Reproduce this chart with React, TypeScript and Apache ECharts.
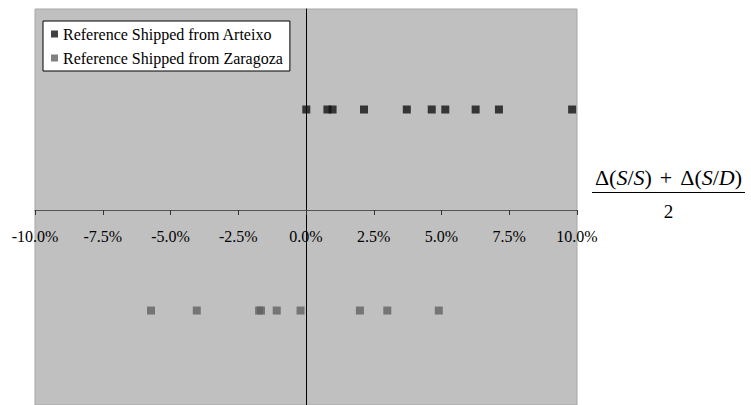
import React, { useEffect, useRef } from "react";
import * as echarts from "echarts";

const arteixoX = [0.01, 0.79, 0.98, 2.14, 3.72, 4.64, 5.14, 6.26, 7.12, 9.82];
const zaragozaX = [-5.72, -4.03, -1.73, -1.66, -1.08, -0.2, 1.99, 3.0, 4.9];
const seriesNames = ["Reference Shipped from Arteixo", "Reference Shipped from Zaragoza"];
const rowLevel = [1, -1];

const FONT = "Liberation Serif";

export default function App() {
  const ref = useRef<HTMLDivElement>(null);
  useEffect(() => {
    if (!ref.current) return;
    const chart = echarts.init(ref.current, undefined, { renderer: "svg" });
    chart.setOption({
      animation: false,
      backgroundColor: "#ffffff",
      grid: {
        left: 35,
        right: 174,
        top: 9,
        bottom: 0,
        outerBoundsMode: "none",
        containLabel: false,
        show: true,
        backgroundColor: "#c0c0c0",
        borderColor: "#a6a6a6",
        borderWidth: 1,
      },
      legend: {
        left: 43,
        top: 21,
        orient: "vertical",
        backgroundColor: "#ffffff",
        borderColor: "#000000",
        borderWidth: 1,
        borderRadius: 0,
        padding: [5, 7, 5, 8],
        itemGap: 8,
        itemWidth: 7,
        itemHeight: 7,
        icon: "rect",
        textStyle: { fontFamily: FONT, fontSize: 16, color: "#000", lineHeight: 16 },
        data: seriesNames,
      },
      xAxis: {
        type: "value",
        min: -10,
        max: 10,
        interval: 2.5,
        offset: -195,
        axisLine: { onZero: false, lineStyle: { color: "#555555", width: 1 } },
        axisTick: { show: true, inside: false, length: 5, lineStyle: { color: "#333" } },
        splitLine: { show: false },
        axisLabel: {
          formatter: (v: number) => v.toFixed(1) + "%",
          fontFamily: FONT,
          fontSize: 16,
          color: "#000",
          margin: 18,
        },
      },
      yAxis: {
        type: "value",
        min: -1.94,
        max: 2,
        axisLine: { show: true, onZero: true, lineStyle: { color: "#000", width: 1 } },
        axisTick: { show: false },
        axisLabel: { show: false },
        splitLine: { show: false },
      },
      series: [
        {
          name: seriesNames[0],
          type: "scatter",
          symbol: "rect",
          symbolSize: 8,
          itemStyle: { color: "#111111" },
          data: arteixoX.map((x) => [x, rowLevel[0]]),
        },
        {
          name: seriesNames[1],
          type: "scatter",
          symbol: "rect",
          symbolSize: 8,
          itemStyle: { color: "#626262" },
          data: zaragozaX.map((x) => [x, rowLevel[1]]),
        },
      ],
      graphic: [
        {
          type: "text",
          x: 668.5,
          y: 177,
          style: {
            text: "{n|Δ(}{i|S}{n|/}{i|S}{n|)}{p|+}{n|Δ(}{i|S}{n|/}{i|D}{n|)}",
            textAlign: "center",
            textVerticalAlign: "middle",
            rich: {
              n: { fontFamily: FONT, fontSize: 22, fill: "#000" },
              i: { fontFamily: FONT, fontSize: 22, fontStyle: "italic", fill: "#000" },
              p: { fontFamily: FONT, fontSize: 22, fill: "#000", padding: [0, 8, 0, 8] },
            },
          },
        },
        {
          type: "line",
          shape: { x1: 592, y1: 192.5, x2: 745, y2: 192.5 },
          style: { stroke: "#000", lineWidth: 1 },
        },
        {
          type: "text",
          x: 668.5,
          y: 211,
          style: {
            text: "2",
            fontFamily: FONT,
            fontSize: 19,
            fill: "#000",
            textAlign: "center",
            textVerticalAlign: "middle",
          },
        },
      ],
    });
    return () => chart.dispose();
  }, []);
  return (
    <div
      ref={ref}
      style={{ position: "absolute", left: 0, top: 0, width: 751, height: 405 }}
    />
  );
}
